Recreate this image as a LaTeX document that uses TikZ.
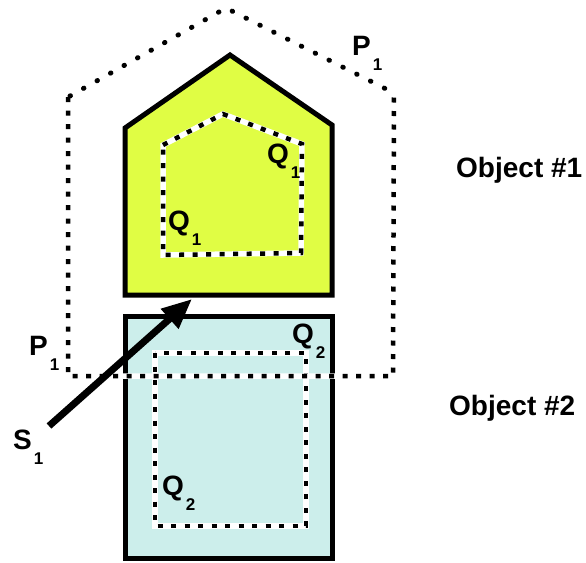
\documentclass[tikz,border=0pt]{standalone}
\usepackage{fontspec}
\setmainfont{Liberation Sans}
\usepackage{tikz}
\usetikzlibrary{arrows.meta}

\definecolor{objyellow}{RGB}{224,253,68}
\definecolor{objcyan}{RGB}{204,238,235}

\newcommand{\sublbl}[2]{\textbf{#1}\hspace{2pt}\raisebox{-15pt}{\fontsize{17}{17}\selectfont\bfseries #2}}

\tikzset{
	objbox/.style={draw=black, line width=5pt, line join=miter},
	bound/.style={black, line width=4.5pt, dash pattern=on 5pt off 8.5pt},
	dotbound/.style={black, line width=5pt, line cap=round, dash pattern=on 0.5pt off 15pt},
	boundbg/.style={white, line width=5.5pt},
	lbl/.style={anchor=base west, inner sep=0pt, font=\fontsize{28}{30}\selectfont\bfseries}
}

\begin{document}
\begin{tikzpicture}[x=1pt, y=-1pt]

		\useasboundingbox (0,0) rectangle (586,562);

		% objects
		\filldraw[objbox, fill=objyellow] (125,128) -- (230,55) -- (332,125) -- (332,295) -- (125,295) -- cycle;
		\filldraw[objbox, fill=objcyan] (125,316) rectangle (332,558);

		% inner regions
		\draw[boundbg] (163,145) -- (223,114) -- (302,144) -- (301,253) -- (163,255) -- cycle;
		\draw[bound] (163,145) -- (223,114) -- (302,144) -- (301,253) -- (163,255) -- cycle;
		\draw[boundbg] (155,353) rectangle (306,526);
		\draw[bound] (155,353) rectangle (306,526);

		% outer region
		\draw[boundbg] (68,97) -- (68,376) -- (393,376) -- (394,93);
		\draw[bound] (68,97) -- (68,376) -- (393,376) -- (394,93);
		\draw[dotbound] (70,96) -- (226,8) -- (394,93);

		% arrow
		\coordinate (s1) at (49,426);
		\coordinate (hit) at (192,299);
		\draw[black, line width=7pt, -{Triangle[length=30pt, width=25pt]}] (s1) -- (hit);

		\node[lbl, at={(352,55)}] (ptop) {\sublbl{P}{1}};
		\node[lbl, at={(29,355)}] (pleft) {\sublbl{P}{1}};
		\node[lbl, at={(267,163)}] (qone) {\sublbl{Q}{1}};
		\node[lbl, at={(168,230)}] (qonel) {\sublbl{Q}{1}};
		\node[lbl, at={(292,343)}] (qtwo) {\sublbl{Q}{2}};
		\node[lbl, at={(162,495)}] (qtwol) {\sublbl{Q}{2}};
		\node[lbl, at={(13,449)}] (sone) {\sublbl{S}{1}};

		\node[lbl, at={(456,177)}] (obj1) {Object \#1};
		\node[lbl, at={(449,415)}] (obj2) {Object \#2};

	\end{tikzpicture}
\end{document}
